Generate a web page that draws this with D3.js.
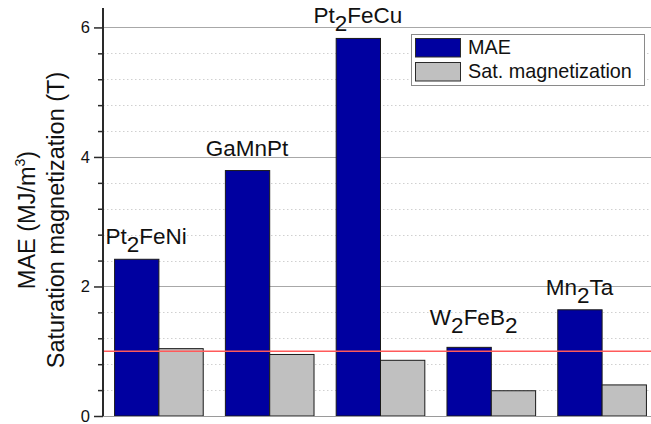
<!DOCTYPE html>
<html>
<head>
<meta charset="utf-8">
<script src="https://cdn.jsdelivr.net/npm/d3@7"></script>
<style>
  html, body { margin: 0; padding: 0; background: #fff; }
  svg { display: block; font-family: "Liberation Sans", Arial, sans-serif; }
</style>
</head>
<body>
<svg id="chart" width="651" height="424"></svg>
<script>
// Compounds, with chemical subscripts as [text, isSubscript] pieces
const compounds = ["Pt2FeNi", "GaMnPt", "Pt2FeCu", "W2FeB2", "Mn2Ta"];
const compoundLabels = [
  [["Pt", false], ["2", true], ["FeNi", false]],
  [["GaMnPt", false]],
  [["Pt", false], ["2", true], ["FeCu", false]],
  [["W", false], ["2", true], ["FeB", false], ["2", true]],
  [["Mn", false], ["2", true], ["Ta", false]]
];
// Magnetic anisotropy energy (MJ/m^3)
const mae = [2.42, 3.79, 5.83, 1.06, 1.64];
// Saturation magnetization (T)
const satMagnetization = [1.04, 0.95, 0.86, 0.39, 0.48];
const seriesNames = ["MAE", "Sat. magnetization"];
const majorTicks = [0, 2, 4, 6];
const referenceLevel = 1.0;

const colors = { "MAE": "#0000a0", "Sat. magnetization": "#c0c0c0" };
// small horizontal/vertical nudges for individual bar labels
const labelNudge = { "Pt2FeNi": [10, 0], "W2FeB2": [5, -7] };

const W = 651, H = 424;
const plotLeft = 103, plotBottom = 416, plotTop = 8;

const svg = d3.select("#chart");

const y = d3.scaleLinear().domain([0, 6.3]).range([plotBottom, plotTop]);
const x0 = d3.scaleBand().domain(compounds).range([plotLeft, 657])
  .paddingInner(0.2).paddingOuter(0.1);
const x1 = d3.scaleBand().domain(seriesNames).range([0, x0.bandwidth()]).padding(0);

const minorTicks = d3.range(0, 6.3, 0.4).filter(v => !majorTicks.some(m => Math.abs(m - v) < 1e-6));

// minor grid (dotted)
svg.append("g").selectAll("line").data(minorTicks).join("line")
  .attr("x1", plotLeft).attr("x2", W)
  .attr("y1", d => Math.round(y(d)) + 0.5).attr("y2", d => Math.round(y(d)) + 0.5)
  .attr("stroke", "#d0d0d0").attr("stroke-width", 1).attr("stroke-dasharray", "1.5,2.5");

// major grid
svg.append("g").selectAll("line").data(majorTicks.filter(d => d > 0)).join("line")
  .attr("x1", plotLeft).attr("x2", W)
  .attr("y1", d => Math.round(y(d)) + 0.5).attr("y2", d => Math.round(y(d)) + 0.5)
  .attr("stroke", "#a8a8a8").attr("stroke-width", 1);

// bars
const rows = compounds.map((c, i) => ({ c, vals: [
  { s: "MAE", v: mae[i] },
  { s: "Sat. magnetization", v: satMagnetization[i] }
]}));

const groups = svg.append("g").selectAll("g").data(rows).join("g")
  .attr("transform", d => `translate(${x0(d.c)},0)`);
groups.selectAll("rect").data(d => d.vals).join("rect")
  .attr("x", d => x1(d.s) + 0.5)
  .attr("y", d => y(d.v))
  .attr("width", x1.bandwidth())
  .attr("height", d => plotBottom - y(d.v))
  .attr("fill", d => colors[d.s])
  .attr("stroke", "#1a1a1a").attr("stroke-width", 1);

// bottom axis line
svg.append("line").attr("x1", plotLeft).attr("x2", W)
  .attr("y1", plotBottom + 0.5).attr("y2", plotBottom + 0.5)
  .attr("stroke", "#9a9a9a").attr("stroke-width", 1.2);

// reference line at 1 T
svg.append("line").attr("x1", plotLeft).attr("x2", W)
  .attr("y1", y(referenceLevel)).attr("y2", y(referenceLevel))
  .attr("stroke", "#ff5a5a").attr("stroke-width", 1.5);

// left axis
const axis = d3.axisLeft(y).tickValues(majorTicks).tickFormat(d3.format("d"))
  .tickSize(9).tickPadding(4);
const gAxis = svg.append("g").attr("transform", `translate(${plotLeft},0)`).call(axis);
gAxis.select(".domain").attr("stroke", "#2a2a2a").attr("stroke-width", 2)
  .attr("d", `M0,${plotTop}V${plotBottom}`);
gAxis.selectAll(".tick line").attr("stroke", "#2a2a2a").attr("stroke-width", 1.5);
gAxis.selectAll(".tick text").attr("font-size", 16.5).attr("fill", "#111")
  .attr("font-family", "Liberation Sans, Arial, sans-serif");
const minorAxis = d3.axisLeft(y).tickValues(minorTicks).tickFormat("").tickSize(5);
const gMinor = svg.append("g").attr("transform", `translate(${plotLeft},0)`).call(minorAxis);
gMinor.select(".domain").remove();
gMinor.selectAll(".tick line").attr("stroke", "#2a2a2a").attr("stroke-width", 1.5);

// bar labels above the MAE bars
const labelSize = 22.5;
compounds.forEach((c, i) => {
  const nudge = labelNudge[c] || [0, 0];
  const cx = x0(c) + x1("MAE") + x1.bandwidth() / 2 + nudge[0];
  const t = svg.append("text")
    .attr("x", cx).attr("y", y(mae[i]) - 15 + nudge[1])
    .attr("text-anchor", "middle")
    .attr("font-size", labelSize).attr("fill", "#111");
  let shifted = false;
  compoundLabels[i].forEach(([txt, sub]) => {
    const span = t.append("tspan").text(txt);
    if (sub && !shifted) { span.attr("dy", 8); shifted = true; }
    else if (!sub && shifted) { span.attr("dy", -8); shifted = false; }
  });
});

// y-axis title (two lines)
const titleY = 220;
const t1 = svg.append("text")
  .attr("transform", `translate(35,${titleY}) rotate(-90)`)
  .attr("text-anchor", "middle").attr("font-size", 23.5).attr("fill", "#111");
t1.append("tspan").text("MAE (MJ/m");
t1.append("tspan").text("3").attr("font-size", 14).attr("dy", -10);
t1.append("tspan").text(")").attr("dy", 10);
svg.append("text")
  .attr("transform", `translate(63.5,${titleY}) rotate(-90)`)
  .attr("text-anchor", "middle").attr("font-size", 23.5).attr("fill", "#111")
  .text("Saturation magnetization (T)");

// legend
const lg = svg.append("g");
lg.append("rect").attr("x", 411.5).attr("y", 34.5).attr("width", 233).attr("height", 51)
  .attr("fill", "#fff").attr("stroke", "#8a8a8a").attr("stroke-width", 1);
seriesNames.forEach((s, i) => {
  const ry = 38.5 + i * 24;
  lg.append("rect").attr("x", 415.5).attr("y", ry).attr("width", 45).attr("height", 18.5)
    .attr("fill", colors[s]).attr("stroke", "#2a2a2a").attr("stroke-width", 1);
  lg.append("text").attr("x", 468).attr("y", ry + 15.5)
    .attr("font-size", 19.8).attr("fill", "#111").text(s);
});
</script>
</body>
</html>
